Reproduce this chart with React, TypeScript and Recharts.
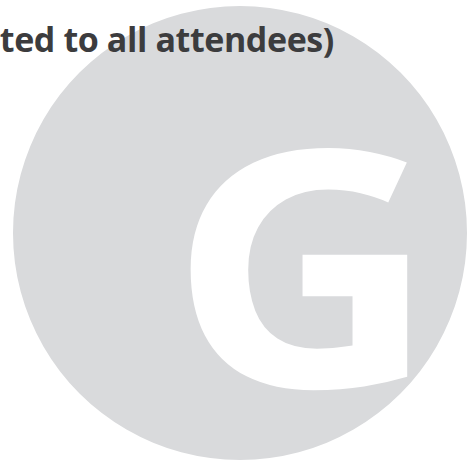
import { PieChart, Pie, Cell } from 'recharts';

const slices = ['G'];
const sliceValues = [1];
const sliceColors = ['#d9dadc'];
const titleText = 'ted to all attendees)';
const badgeLetter = 'G';

const data = slices.map((name, i) => ({ name, value: sliceValues[i] }));

export default function App() {
  return (
    <div style={{ position: 'absolute', left: 0, top: 0, width: 473, height: 460, background: '#fff' }}>
      <PieChart width={473} height={460} margin={{ top: 0, right: 0, bottom: 0, left: 0 }}>
        <Pie
          data={data}
          dataKey="value"
          nameKey="name"
          cx={240}
          cy={233}
          outerRadius={227}
          startAngle={90}
          endAngle={450}
          stroke="none"
          isAnimationActive={false}
        >
          {data.map((d, i) => (
            <Cell key={d.name} fill={sliceColors[i]} />
          ))}
        </Pie>
      </PieChart>
      {/* text overlay, pie layer paints over chart children */}
      <svg
        width={473}
        height={460}
        style={{ position: 'absolute', left: 0, top: 0, pointerEvents: 'none' }}
      >
        <text
          x={303}
          y={387}
          textAnchor="middle"
          fill="#ffffff"
          fontFamily="'Open Sans', sans-serif"
          fontWeight={700}
          fontSize={330}
          transform="translate(303 0) scale(1.12 1) translate(-303 0)"
        >
          {badgeLetter}
        </text>
        <text
          x={334}
          y={52}
          textAnchor="end"
          fill="#3c3c3e"
          fontFamily="'Open Sans', sans-serif"
          fontWeight={700}
          fontSize={34}
          letterSpacing={-0.4}
        >
          {titleText}
        </text>
      </svg>
    </div>
  );
}
